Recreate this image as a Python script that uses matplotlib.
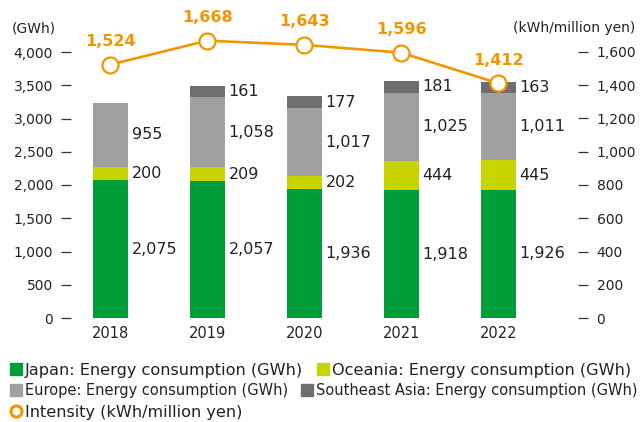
import matplotlib.pyplot as plt
import numpy as np
from matplotlib.lines import Line2D

years = ["2018", "2019", "2020", "2021", "2022"]
japan = np.array([2075, 2057, 1936, 1918, 1926])
oceania = np.array([200, 209, 202, 444, 445])
europe = np.array([955, 1058, 1017, 1025, 1011])
se_asia = np.array([0, 161, 177, 181, 163])
intensity = np.array([1524, 1668, 1643, 1596, 1412])

C_JAPAN = "#009e3b"
C_OCEANIA = "#c8d400"
C_EUROPE = "#a0a0a0"
C_SEASIA = "#6e6e6e"
C_ORANGE = "#f29600"
C_TEXT = "#222222"

plt.rcParams["font.family"] = "DejaVu Sans"

W, H = 640, 422
fig = plt.figure(figsize=(W / 100, H / 100), dpi=100)
# axes box in pixels: left 71, right 578, bottom y=318, top y=20
ax = fig.add_axes([71 / W, (H - 318) / H, (578 - 71) / W, (318 - 20) / H])
ax2 = ax.twinx()

x = np.arange(len(years))
bw = 0.36
ymax = 4000 * (318 - 20) / 266
ax.set_ylim(0, ymax)
ax2.set_ylim(0, ymax * 0.4)
ax.set_xlim(-(110.2 - 71) / 97, (578 - 110.2) / 97)

bottoms = np.zeros(len(years))
segments = [(japan, C_JAPAN), (oceania, C_OCEANIA), (europe, C_EUROPE), (se_asia, C_SEASIA)]
for vals, col in segments:
    ax.bar(x, vals, bw, bottom=bottoms, color=col, linewidth=0, zorder=2)
    for xi, v, b in zip(x, vals, bottoms):
        if v > 0:
            ax.text(xi + bw / 2 + 0.04, b + v / 2, f"{v:,}", ha="left", va="center",
                    fontsize=11.5, color=C_TEXT, zorder=3)
    bottoms = bottoms + vals

ax2.plot(x, intensity, color=C_ORANGE, lw=1.9, marker="o", ms=11.5,
         mfc="white", mec=C_ORANGE, mew=1.6, zorder=4)
for xi, v in zip(x, intensity):
    ax2.annotate(f"{v:,}", (xi, v), xytext=(0, 16.5), textcoords="offset points",
                 ha="center", va="center", fontsize=11.5, fontweight="bold", color=C_ORANGE)

for a in (ax, ax2):
    for s in a.spines.values():
        s.set_visible(False)

ax.set_yticks(np.arange(0, 4001, 500))
ax.set_yticklabels([f"{v:,}" for v in range(0, 4001, 500)])
ax2.set_yticks(np.arange(0, 1601, 200))
ax2.set_yticklabels([f"{v:,}" for v in range(0, 1601, 200)])
ax.tick_params(axis="y", length=7.2, width=0.9, color="#333333", pad=5.8,
               labelsize=10, labelcolor=C_TEXT)
ax2.tick_params(axis="y", length=7.2, width=0.9, color="#333333", pad=6.2,
                labelsize=10, labelcolor=C_TEXT)
ax.set_xticks(x)
ax.set_xticklabels(years)
ax.tick_params(axis="x", length=0, pad=6, labelsize=10.5, labelcolor=C_TEXT)
ax2.set_zorder(ax.get_zorder() + 1)
ax.patch.set_visible(False)

fig.text(12 / W, 1 - 28 / H, "(GWh)", ha="left", va="center", fontsize=10, color=C_TEXT)
fig.text(635 / W, 1 - 28 / H, "(kWh/million yen)", ha="right", va="center", fontsize=10, color=C_TEXT)

def sq(col):
    return Line2D([], [], marker="s", ls="none", ms=8.6, mfc=col, mec=col)

# one legend per row; the second row is set a bit tighter so it fits the width
rows = [
    ([sq(C_JAPAN), sq(C_OCEANIA)],
     ["Japan: Energy consumption (GWh)", "Oceania: Energy consumption (GWh)"], 370, 11.6, 13),
    ([sq(C_EUROPE), sq(C_SEASIA)],
     ["Europe: Energy consumption (GWh)", "Southeast Asia: Energy consumption (GWh)"], 391, 10.5, 12),
    ([Line2D([], [], marker="o", ls="none", ms=8, mfc="white", mec=C_ORANGE, mew=2.2)],
     ["Intensity (kWh/million yen)"], 412, 11.6, 13),
]
for handles, labels, yp, fs, gap in rows:
    em = fs * 100 / 72
    fig.legend(handles, labels, loc="center left", bbox_to_anchor=(9 / W, 1 - yp / H),
               ncol=len(labels), frameon=False, fontsize=fs, handlelength=13 / em,
               handletextpad=3 / em, columnspacing=gap / em, borderpad=0, borderaxespad=0,
               labelcolor=C_TEXT)

fig.savefig("out.png", dpi=100)
